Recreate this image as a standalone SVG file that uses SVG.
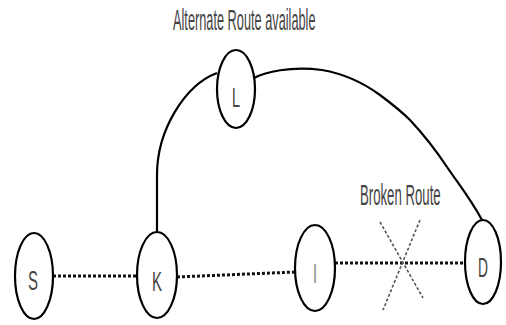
<svg xmlns="http://www.w3.org/2000/svg" width="506" height="325" viewBox="0 0 506 325">
<style>
.node{fill:#fff;stroke:#000;stroke-width:2.2}
.lbl{font-family:"Liberation Sans",Arial,sans-serif;font-size:28px;fill:#444;text-anchor:middle}
.cap{font-family:"Liberation Sans",Arial,sans-serif;font-size:29px;fill:#444}
.solid{fill:none;stroke:#000;stroke-width:2.2}
.dot{fill:none;stroke:#111;stroke-width:3;stroke-dasharray:3 2}
.brk{fill:none;stroke:#555;stroke-width:1.6;stroke-dasharray:3 2}
</style>
<rect width="506" height="325" fill="#fff"/>
<text class="cap" transform="translate(173,30) scale(0.44,1)" x="0" y="0">Alternate Route available</text>
<text class="cap" transform="translate(360,205) scale(0.455,1)" x="0" y="0">Broken Route</text>
<g id="connectors">
<path class="solid" d="M157,232 L157,175 C157,130 185,85 217,73"/>
<path class="solid" d="M254,78 C265,72 290,66 322,70 C345,74 365,84 380,95 C392,104 400,110 410,120 C425,136 437,152 447,167 C460,186 470,198 482,220"/>
<path class="dot" d="M53,276 L137,276"/>
<path class="dot" d="M177,277 L295,272"/>
<path class="dot" d="M335,263 L465,263"/>
<path class="brk" d="M380,222 L423,298"/>
<path class="brk" d="M420,220 L383,310"/>
</g>
<g id="S"><ellipse class="node" cx="34" cy="276" rx="19" ry="43"/><text class="lbl" x="33" y="290" textLength="10" lengthAdjust="spacingAndGlyphs">S</text></g>
<g id="K"><ellipse class="node" cx="157" cy="275" rx="20" ry="43"/><text class="lbl" x="157" y="291" textLength="10" lengthAdjust="spacingAndGlyphs">K</text></g>
<g id="I"><ellipse class="node" cx="315" cy="268" rx="20" ry="43"/><text class="lbl" x="315" y="283" style="fill:#8a8a8a" textLength="4" lengthAdjust="spacingAndGlyphs">I</text></g>
<g id="D"><ellipse class="node" cx="483" cy="262" rx="18" ry="42"/><text class="lbl" x="483" y="277" textLength="10" lengthAdjust="spacingAndGlyphs">D</text></g>
<g id="L"><ellipse class="node" cx="236" cy="89" rx="19" ry="39"/><text class="lbl" x="236" y="107" textLength="8" lengthAdjust="spacingAndGlyphs">L</text></g>
</svg>
